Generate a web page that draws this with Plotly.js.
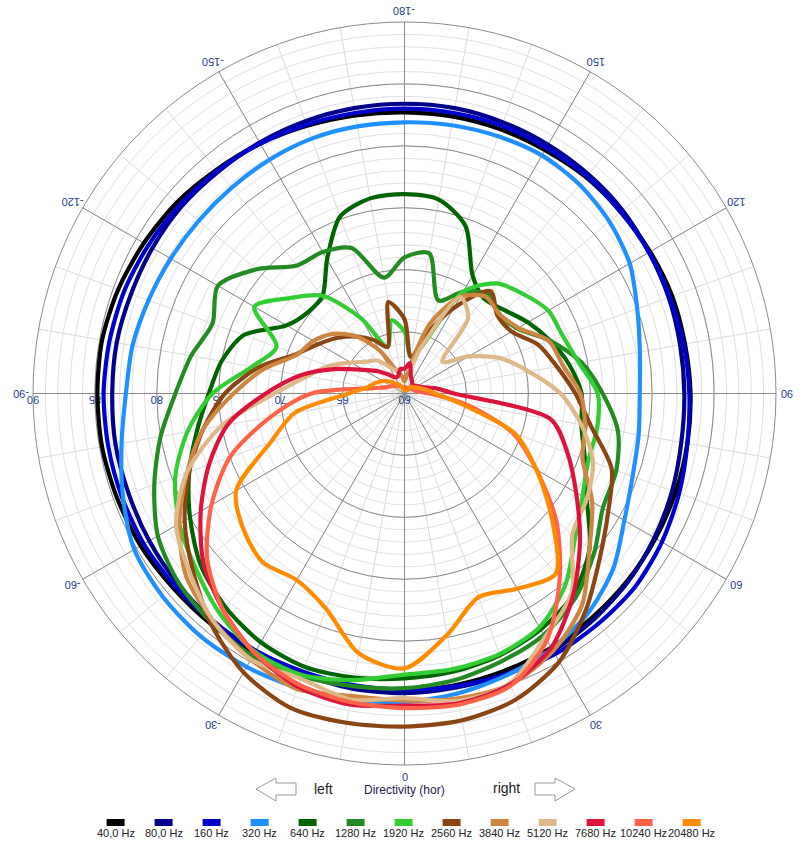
<!DOCTYPE html>
<html><head><meta charset="utf-8">
<script src="https://cdn.plot.ly/plotly-3.0.1.min.js"></script>
<style>html,body{margin:0;padding:0;background:#fff}#chart{width:807px;height:847px}</style>
</head><body><div id="chart"></div>
<script>
// Angles (degrees, horizontal directivity)
const angles = [-180,-170,-160,-150,-140,-130,-120,-110,-100,-90,-80,-70,-60,-50,-40,-30,-20,-10,0,10,20,30,40,50,60,70,80,90,100,110,120,130,140,150,160,170,180];

const seriesNames = ["40,0 Hz","80,0 Hz","160 Hz","320 Hz","640 Hz","1280 Hz","1920 Hz","2560 Hz","3840 Hz","5120 Hz","7680 Hz","10240 Hz","20480 Hz"];

// Levels in dB per angle
const lvl40 = [82.7,82.8,83.0,83.3,83.6,84.0,84.3,84.6,84.8,84.8,84.8,84.7,84.6,84.4,84.3,84.2,84.1,84.0,84.0,83.9,83.8,83.7,83.6,83.5,83.4,83.3,83.2,83.1,83.0,83.0,82.9,82.8,82.8,82.7,82.7,82.7,82.7];
const lvl80 = [83.4,83.4,83.4,83.4,83.4,83.5,83.5,83.5,83.6,83.6,83.7,83.7,83.8,83.9,84.0,84.0,84.1,84.2,84.2,84.1,84.1,84.0,83.8,83.6,83.3,83.0,82.7,82.6,82.6,82.7,82.8,83.0,83.1,83.2,83.3,83.4,83.4];
const lvl160 = [83.0,83.0,83.1,83.3,83.5,83.7,83.9,84.1,84.2,84.3,84.3,84.3,84.3,84.2,84.1,84.0,83.9,83.9,83.9,84.0,84.1,84.3,84.3,84.3,84.0,83.6,83.2,83.0,82.9,82.8,82.8,82.8,82.9,82.9,83.0,83.0,83.0];
const lvl320 = [81.9,81.9,81.9,81.8,81.7,81.7,81.8,82.0,82.3,82.5,83.2,84.2,85.2,85.5,85.6,85.5,85.3,85.1,84.9,84.6,84.2,83.8,83.1,82.0,80.5,79.6,79.2,79.0,79.3,80.0,81.0,81.6,82.0,82.2,82.1,82.0,81.9];
const lvl640 = [76.1,76.0,75.2,72.5,70.3,70.2,71.0,73.8,75.0,75.8,77.0,78.5,80.0,81.5,82.5,83.2,83.5,83.3,83.0,82.8,82.5,82.0,81.2,79.5,77.0,75.5,74.5,74.3,73.5,72.5,71.5,70.5,70.0,71.0,74.4,75.9,76.1];
const lvl1280 = [71.0,69.5,72.5,73.2,73.5,75.6,77.4,76.5,77.5,78.5,80.0,81.5,83.0,83.8,84.2,84.5,84.3,84.0,83.8,83.5,83.0,82.5,81.5,80.0,78.5,78.2,77.5,76.0,74.5,72.5,70.5,70.0,70.5,69.5,68.0,71.5,71.0];
const lvl1920 = [65.0,66.0,64.0,67.0,70.3,72.0,74.0,71.0,72.5,75.5,77.8,79.7,81.0,82.0,83.2,84.1,84.2,83.5,82.7,82.6,82.4,81.8,80.2,78.0,76.6,75.8,75.8,75.6,74.3,73.6,73.4,72.5,71.6,69.5,64.0,63.0,65.0];
const lvl2560 = [66.0,67.5,64.0,65.0,66.0,67.0,68.0,69.3,72.0,74.5,76.5,78.5,80.5,82.3,84.3,86.0,87.0,87.0,86.9,86.8,86.3,85.0,82.8,80.6,79.0,77.8,75.3,73.8,72.5,71.5,70.0,69.8,70.8,68.0,65.0,63.0,66.0];
const lvl3840 = [61.0,61.5,62.0,64.0,66.0,67.5,68.5,69.2,71.5,73.8,76.5,78.7,81.0,83.0,84.0,84.8,85.4,84.8,84.8,85.0,85.0,84.0,82.3,79.5,77.5,75.3,74.8,74.2,73.0,72.4,70.6,70.0,70.2,69.0,66.0,62.0,61.0];
const lvl5120 = [62.0,62.0,62.0,62.5,63.5,64.0,65.0,66.5,68.0,70.5,75.0,78.7,81.3,82.6,84.0,84.8,84.5,85.1,84.6,85.2,84.9,82.7,81.0,77.7,77.0,76.2,74.5,72.6,70.2,68.3,66.0,64.0,68.0,69.0,64.0,62.0,62.0];
const lvl7680 = [62.0,62.0,61.5,61.5,62.0,62.8,63.8,65.8,68.5,71.2,74.5,76.8,79.0,81.2,82.8,84.2,85.2,85.5,85.2,85.4,85.0,83.7,81.2,78.5,76.0,74.0,72.0,64.0,62.5,61.5,61.2,61.0,61.0,61.2,61.5,62.5,62.0];
const lvl10240 = [60.5,60.5,60.5,60.6,60.8,61.0,61.2,61.5,62.5,67.5,71.0,75.0,78.0,80.8,82.8,84.2,85.0,85.3,85.4,85.5,85.1,83.0,79.5,76.0,72.3,69.3,65.0,62.0,61.0,60.8,60.7,60.6,60.5,60.5,60.5,60.5,60.5];
const lvl20480 = [60.3,60.3,60.5,60.8,61.0,61.5,62.0,62.5,63.0,64.5,69.0,71.5,75.7,77.0,77.8,77.4,78.5,81.3,82.2,79.8,77.5,78.2,79.0,75.5,72.3,69.5,64.5,62.5,61.8,61.3,61.0,60.8,60.6,60.4,60.3,60.3,60.3];

const seriesValues = [lvl40,lvl80,lvl160,lvl320,lvl640,lvl1280,lvl1920,lvl2560,lvl3840,lvl5120,lvl7680,lvl10240,lvl20480];
const seriesColors = ["#000000","#00008b","#0000cd","#1e90ff","#006400","#228b22","#32cd32","#8b4513","#cd853f","#deb887","#dc143c","#ff6347","#ff8c00"];

const angTickVals = [0,30,60,90,120,150,180,-150,-120,-90,-60,-30];
const angTickText = ["0","30","60","90","120","150","-180","-150","-120","-90","-60","-30"];

const W = 807, H = 847;
const CX = 404.5, CY = 393.5, RL = 383;   // label ring (pixels) for angular labels
const px = x => x / W, py = y => 1 - y / H;
const dom = {x:[px(32), px(777)], y:[py(765), py(22)]};
const tickColor = "#1b3c8c";
const fontFam = "Liberation Sans, Arial, sans-serif";

const traces = [{type: "scatterpolar", subplot: "polar", mode: "lines", r: [], theta: [], hoverinfo: "skip", showlegend: false}];
seriesValues.forEach((v, i) => traces.push({
  type: "scatterpolar", subplot: "polar2", mode: "lines",
  r: v, theta: angles, name: seriesNames[i],
  line: {color: seriesColors[i], width: 4.2, shape: "spline", smoothing: 0.8},
  hoverinfo: "skip"
}));

const shapes = [];
const annotations = [];
// angular tick labels, drawn upside down like the original
angTickVals.forEach((a, i) => {
  const t = a * Math.PI / 180;
  annotations.push({xref: "paper", yref: "paper", x: px(CX + RL * Math.sin(t)), y: py(CY + RL * Math.cos(t)),
    text: angTickText[i], textangle: a === 0 ? 0 : 180, showarrow: false, xanchor: "center", yanchor: "middle",
    font: {family: fontFam, size: 11, color: tickColor}});
});
// custom legend: swatch above label
seriesNames.forEach((n, i) => {
  const cx = 115.6 + 48 * i;
  shapes.push({type: "rect", xref: "paper", yref: "paper", x0: px(cx - 9), x1: px(cx + 9), y0: py(826), y1: py(819),
    fillcolor: seriesColors[i], line: {width: 0}});
  annotations.push({xref: "paper", yref: "paper", x: px(cx), y: py(833), text: n, showarrow: false,
    xanchor: "center", yanchor: "middle", font: {family: fontFam, size: 11, color: "#222"}});
});
// arrows
function poly(pts){ return "M" + pts.map(p => px(p[0]) + "," + py(p[1])).join(" L") + " Z"; }
shapes.push({type: "path", xref: "paper", yref: "paper", path: poly([[256,789],[276,778],[276,783],[296,783],[296,795],[276,795],[276,801]]), line: {color: "#999", width: 1}, fillcolor: "#fff"});
shapes.push({type: "path", xref: "paper", yref: "paper", path: poly([[575,789],[555,778],[555,783],[535,783],[535,795],[555,795],[555,801]]), line: {color: "#999", width: 1}, fillcolor: "#fff"});
annotations.push({xref: "paper", yref: "paper", x: px(323), y: py(789), text: "left", showarrow: false, xanchor: "center", yanchor: "middle", font: {family: fontFam, size: 14, color: "#1a1a1a"}});
annotations.push({xref: "paper", yref: "paper", x: px(506), y: py(788), text: "right", showarrow: false, xanchor: "center", yanchor: "middle", font: {family: fontFam, size: 14, color: "#1a1a1a"}});
annotations.push({xref: "paper", yref: "paper", x: px(404), y: py(790), text: "Directivity (hor)", showarrow: false, xanchor: "center", yanchor: "middle", font: {family: fontFam, size: 12, color: "#2b1a4a"}});

const layout = {
  width: W, height: H, margin: {l: 0, r: 0, t: 0, b: 0},
  paper_bgcolor: "#fff", showlegend: false,
  font: {family: fontFam},
  polar: {
    domain: dom, bgcolor: "#fff",
    angularaxis: {rotation: 270, direction: "counterclockwise", tickmode: "linear", tick0: 0, dtick: 10,
      gridcolor: "#dadada", gridwidth: 1, showline: false, showticklabels: false, ticks: ""},
    radialaxis: {range: [60, 90], tickmode: "linear", tick0: 60, dtick: 1, gridcolor: "#e0e0e0",
      showline: false, showticklabels: false, ticks: ""}
  },
  polar2: {
    domain: dom, bgcolor: "rgba(0,0,0,0)",
    angularaxis: {rotation: 270, direction: "counterclockwise", tickmode: "array", tickvals: [0,30,60,90,120,150,180,210,240,270,300,330],
      gridcolor: "#8a8a8a", gridwidth: 1, showline: true, linecolor: "#8a8a8a", linewidth: 1, ticks: "",
      showticklabels: false},
    radialaxis: {range: [60, 90], tickmode: "linear", tick0: 60, dtick: 5, gridcolor: "#8a8a8a", showline: false,
      angle: 180, side: "counterclockwise", tickangle: 0, ticks: "", layer: "below traces",
      tickfont: {family: fontFam, size: 11, color: tickColor}}
  },
  shapes: shapes, annotations: annotations
};

Plotly.newPlot("chart", traces, layout, {displayModeBar: false, staticPlot: true});
</script>
</body></html>
